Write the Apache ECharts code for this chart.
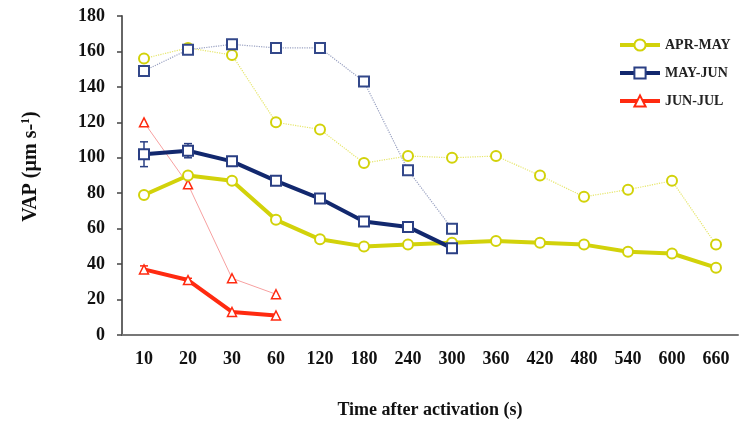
<!DOCTYPE html>
<html>
<head>
<meta charset="utf-8">
<script src="https://cdn.jsdelivr.net/npm/echarts@6/dist/echarts.min.js"></script>
<style>html,body{margin:0;padding:0;background:#fff;}#c{width:746px;height:424px;}</style>
</head>
<body>
<div id="c"></div>
<script>
var categories = ['10','20','30','60','120','180','240','300','360','420','480','540','600','660'];
var yTicks = [0,20,40,60,80,100,120,140,160,180];
var aprMayThin = [156,162,158,120,116,97,101,100,101,90,78,82,87,51];
var aprMayThick = [79,90,87,65,54,50,51,52,53,52,51,47,46,38];
var mayJunThin = [149,161,164,162,162,143,93,60];
var mayJunThick = [102,104,98,87,77,64,61,49];
var junJulThin = [120,85,32,23];
var junJulThick = [37,31,13,11];
var mayJunThickErr = [7,4,0,0,0,0,0,0];
var junJulThickErr = [2,1,0,0];

var YEL = '#d2d20a', BLU = '#12286e', RED = '#ff2a10';
var font = '"Liberation Serif", "Times New Roman", serif';

function errSeries(vals, errs, color) {
  var d = [];
  for (var i = 0; i < vals.length; i++) if (errs[i] > 0) d.push([i, vals[i] - errs[i], vals[i] + errs[i]]);
  return {
    type: 'custom', silent: true, z: 1,
    renderItem: function (params, api) {
      var x = api.coord([api.value(0), api.value(1)]);
      var y2 = api.coord([api.value(0), api.value(2)]);
      var w = 4;
      return { type: 'group', children: [
        { type: 'line', shape: { x1: x[0], y1: x[1], x2: y2[0], y2: y2[1] }, style: { stroke: color, lineWidth: 1.5 } },
        { type: 'line', shape: { x1: x[0]-w, y1: x[1], x2: x[0]+w, y2: x[1] }, style: { stroke: color, lineWidth: 1.5 } },
        { type: 'line', shape: { x1: y2[0]-w, y1: y2[1], x2: y2[0]+w, y2: y2[1] }, style: { stroke: color, lineWidth: 1.5 } }
      ]};
    },
    data: d
  };
}

var chart = echarts.init(document.getElementById('c'), null, { renderer: 'canvas' });
chart.setOption({
  animation: false,
  grid: { left: 122, right: 8, top: 16, bottom: 89 },
  legend: {
    data: ['APR-MAY', 'MAY-JUN', 'JUN-JUL'],
    orient: 'vertical', left: 613, top: 33, itemGap: 14,
    itemWidth: 40, itemHeight: 14,
    lineStyle: { width: 4 },
    textStyle: { fontFamily: font, fontWeight: 'bold', fontSize: 14, color: '#222' }
  },
  xAxis: {
    type: 'category', data: categories, boundaryGap: true,
    name: 'Time after activation (s)', nameLocation: 'middle', nameGap: 66,
    nameTextStyle: { fontFamily: font, fontWeight: 'bold', fontSize: 18, color: '#111' },
    axisLine: { lineStyle: { color: '#777', width: 2 } },
    axisTick: { alignWithLabel: true, length: 4, lineStyle: { color: '#555' } },
    axisLabel: { fontFamily: font, fontWeight: 'bold', fontSize: 18, color: '#111', margin: 15 },
    splitLine: { show: false }
  },
  yAxis: {
    type: 'value', min: 0, max: 180, interval: 20,
    name: 'VAP (µm s-{sup|1})', nameLocation: 'middle', nameGap: 80, nameRotate: 90,
    nameTextStyle: { fontFamily: font, fontWeight: 'bold', fontSize: 20, color: '#111', padding: [0,0,0,18],
      rich: { sup: { fontFamily: font, fontWeight: 'bold', fontSize: 12, color: '#111', verticalAlign: 'top', padding: [0,0,10,0] } } },
    axisLine: { show: true, lineStyle: { color: '#666', width: 2 } },
    axisTick: { show: true, length: 5, lineStyle: { color: '#444', width: 1.5 } },
    axisLabel: { fontFamily: font, fontWeight: 'bold', fontSize: 18, color: '#111', margin: 17 },
    splitLine: { show: false }
  },
  series: [
    { name: 'APR-MAY thin', type: 'line', data: aprMayThin, symbol: 'circle', symbolSize: 10,
      lineStyle: { color: '#e6e66a', width: 1.2, type: 'dotted' },
      itemStyle: { color: '#fff', borderColor: YEL, borderWidth: 2 }, z: 2 },
    { name: 'MAY-JUN thin', type: 'line', data: mayJunThin, symbol: 'rect', symbolSize: 10,
      lineStyle: { color: '#9aa2c2', width: 1.2, type: 'dotted' },
      itemStyle: { color: '#fff', borderColor: '#33488a', borderWidth: 2 }, z: 2 },
    { name: 'JUN-JUL thin', type: 'line', data: junJulThin, symbol: 'triangle', symbolSize: 9,
      lineStyle: { color: '#f7a0a0', width: 1 },
      itemStyle: { color: '#fff', borderColor: RED, borderWidth: 1.5 }, z: 2 },
    { name: 'APR-MAY', type: 'line', data: aprMayThick, symbol: 'circle', symbolSize: 10,
      lineStyle: { color: YEL, width: 4 },
      itemStyle: { color: '#fff', borderColor: YEL, borderWidth: 2 }, z: 3 },
    { name: 'MAY-JUN', type: 'line', data: mayJunThick, symbol: 'rect', symbolSize: 10,
      lineStyle: { color: BLU, width: 4 },
      itemStyle: { color: '#fff', borderColor: '#2a3f84', borderWidth: 2 }, z: 3 },
    { name: 'JUN-JUL', type: 'line', data: junJulThick, symbol: 'triangle', symbolSize: 9,
      lineStyle: { color: RED, width: 4 },
      itemStyle: { color: '#fff', borderColor: RED, borderWidth: 1.5 }, z: 3 },
    errSeries(mayJunThick, mayJunThickErr, '#2a3f84'),
    errSeries(junJulThick, junJulThickErr, RED)
  ]
});
</script>
</body>
</html>
